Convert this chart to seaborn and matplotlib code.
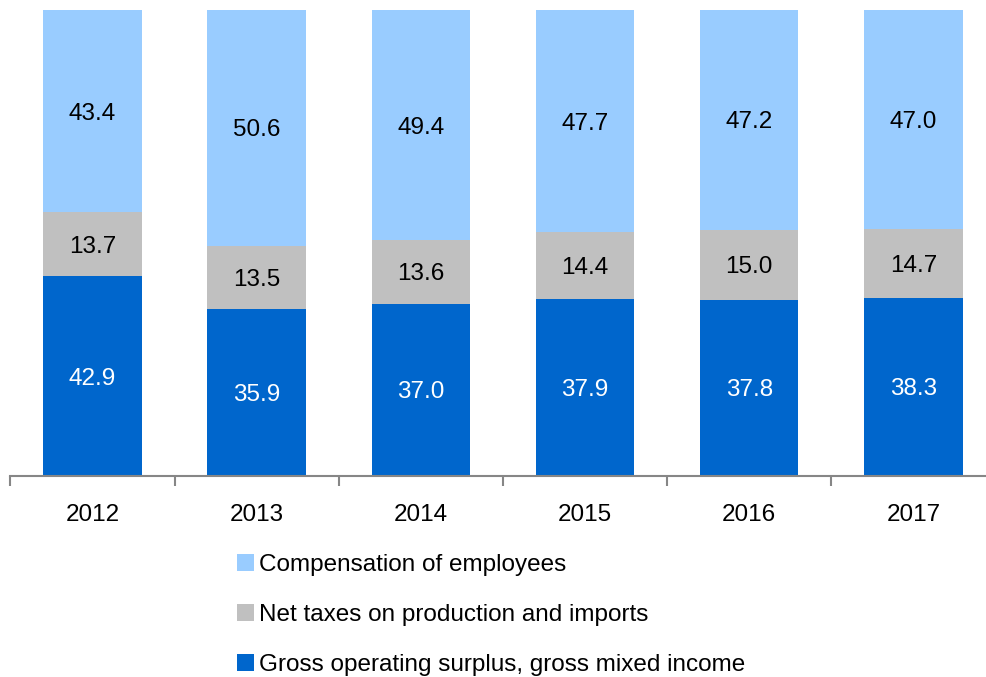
import matplotlib
matplotlib.use("Agg")
import matplotlib.pyplot as plt
from matplotlib.patches import Patch
import seaborn as sns
import pandas as pd
import numpy as np

years = ["2012", "2013", "2014", "2015", "2016", "2017"]
compensation = [43.4, 50.6, 49.4, 47.7, 47.2, 47.0]
net_taxes = [13.7, 13.5, 13.6, 14.4, 15.0, 14.7]
gross_surplus = [42.9, 35.9, 37.0, 37.9, 37.8, 38.3]
series_names = ["Compensation of employees",
                "Net taxes on production and imports",
                "Gross operating surplus, gross mixed income"]
colors = ["#99CCFF", "#C0C0C0", "#0066CC"]

sns.set_theme(style="white")
plt.rcParams["font.family"] = ["Liberation Sans", "DejaVu Sans"]
plt.rcParams["text.color"] = "black"
plt.rcParams["xtick.color"] = "black"

fig = plt.figure(figsize=(9.87, 6.77), dpi=100)
ax = fig.add_axes([10.4 / 987, 1 - 476 / 677, 985 / 987, 466 / 677])

g = np.array(gross_surplus)
t = np.array(net_taxes)
c = np.array(compensation)
top_total = g + t + c
mid_total = g + t

df = pd.DataFrame({"year": years, "total": top_total, "mid": mid_total, "low": g})
sns.barplot(data=df, x="year", y="total", color=colors[0], width=0.6,
            saturation=1, ax=ax, linewidth=0)
sns.barplot(data=df, x="year", y="mid", color=colors[1], width=0.6,
            saturation=1, ax=ax, linewidth=0)
sns.barplot(data=df, x="year", y="low", color=colors[2], width=0.6,
            saturation=1, ax=ax, linewidth=0)

fs = 17.5
for i in range(len(years)):
    ax.text(i, g[i] / 2, f"{g[i]:.1f}", ha="center", va="center_baseline",
            color="white", fontsize=fs)
    ax.text(i, g[i] + t[i] / 2, f"{t[i]:.1f}", ha="center",
            va="center_baseline", color="black", fontsize=fs)
    ax.text(i, mid_total[i] + c[i] / 2, f"{c[i]:.1f}", ha="center",
            va="center_baseline", color="black", fontsize=fs)

ax.set_xlim(-0.5, len(years) - 0.5)
ax.set_ylim(0, 100)
ax.set_xlabel("")
ax.set_ylabel("")
ax.set_yticks([])
for s in ["top", "right", "left"]:
    ax.spines[s].set_visible(False)
ax.spines["bottom"].set_color("#868686")
ax.spines["bottom"].set_linewidth(1.5)

ax.set_xticks(range(len(years)))
ax.set_xticklabels(years, fontsize=fs, color="black")
ax.tick_params(axis="x", which="major", length=0, pad=20, bottom=False)
ax.set_xticks(np.arange(-0.5, len(years), 1.0), minor=True)
ax.tick_params(axis="x", which="minor", bottom=True, length=7, width=1.5,
               color="#868686", direction="out")

handles = [Patch(facecolor=colors[i], edgecolor="none") for i in range(3)]
leg = fig.legend(handles, series_names, loc="upper left",
                 bbox_to_anchor=(227 / 987, 1 - 544 / 677), frameon=False,
                 fontsize=fs, handlelength=0.7, handleheight=0.7,
                 handletextpad=0.2, labelspacing=1.15, borderaxespad=0)
for txt in leg.get_texts():
    txt.set_color("black")

fig.savefig("out.png", dpi=100)
